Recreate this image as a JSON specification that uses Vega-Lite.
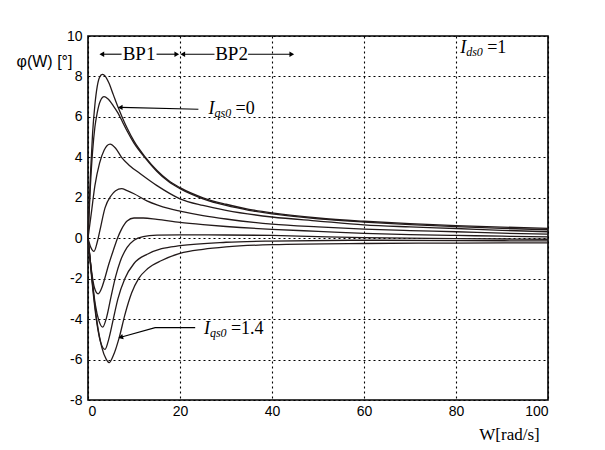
{
  "$schema": "https://vega.github.io/schema/vega-lite/v6.json",
  "width": 460,
  "height": 364,
  "autosize": {"type": "none"},
  "padding": {"left": 88, "top": 36, "right": 57, "bottom": 50},
  "background": "white",
  "config": {
    "view": {"stroke": "black", "strokeWidth": 1.6},
    "axis": {"labelFont": "Liberation Sans", "labelFontSize": 14, "labelColor": "black", "domain": false, "ticks": false, "grid": true, "gridColor": "black", "gridOpacity": 1, "gridDash": [2, 3], "gridWidth": 1.1, "titleColor": "black", "titleFontWeight": "normal"}
  },
  "datasets": {
    "curves": [
      {"s": 1, "w": 0, "phi": 0}, {"s": 1, "w": 0.5, "phi": 3.0}, {"s": 1, "w": 1, "phi": 5.2}, {"s": 1, "w": 1.5, "phi": 6.6}, {"s": 1, "w": 2, "phi": 7.5}, {"s": 1, "w": 2.5, "phi": 7.95}, {"s": 1, "w": 3.1, "phi": 8.1}, {"s": 1, "w": 3.6, "phi": 8.05}, {"s": 1, "w": 4.5, "phi": 7.7}, {"s": 1, "w": 5.5, "phi": 7.1}, {"s": 1, "w": 6.5, "phi": 6.5}, {"s": 1, "w": 7.5, "phi": 5.95}, {"s": 1, "w": 8.5, "phi": 5.45}, {"s": 1, "w": 10, "phi": 4.8}, {"s": 1, "w": 12.5, "phi": 4.0}, {"s": 1, "w": 15, "phi": 3.35}, {"s": 1, "w": 17.5, "phi": 2.85}, {"s": 1, "w": 20, "phi": 2.5}, {"s": 1, "w": 25, "phi": 2.0}, {"s": 1, "w": 30, "phi": 1.68}, {"s": 1, "w": 35, "phi": 1.43}, {"s": 1, "w": 40, "phi": 1.25}, {"s": 1, "w": 50, "phi": 1.0}, {"s": 1, "w": 60, "phi": 0.84}, {"s": 1, "w": 70, "phi": 0.72}, {"s": 1, "w": 80, "phi": 0.62}, {"s": 1, "w": 90, "phi": 0.55}, {"s": 1, "w": 100, "phi": 0.49},
      {"s": 2, "w": 0, "phi": 0}, {"s": 2, "w": 0.5, "phi": 2.5}, {"s": 2, "w": 1, "phi": 4.3}, {"s": 2, "w": 1.5, "phi": 5.5}, {"s": 2, "w": 2, "phi": 6.2}, {"s": 2, "w": 2.7, "phi": 6.8}, {"s": 2, "w": 3.5, "phi": 7.0}, {"s": 2, "w": 4.3, "phi": 6.9}, {"s": 2, "w": 5.5, "phi": 6.55}, {"s": 2, "w": 6.5, "phi": 6.2}, {"s": 2, "w": 7.5, "phi": 5.75}, {"s": 2, "w": 8.5, "phi": 5.3}, {"s": 2, "w": 10, "phi": 4.7}, {"s": 2, "w": 12.5, "phi": 3.95}, {"s": 2, "w": 15, "phi": 3.3}, {"s": 2, "w": 17.5, "phi": 2.8}, {"s": 2, "w": 20, "phi": 2.45}, {"s": 2, "w": 25, "phi": 1.95}, {"s": 2, "w": 30, "phi": 1.62}, {"s": 2, "w": 35, "phi": 1.38}, {"s": 2, "w": 40, "phi": 1.2}, {"s": 2, "w": 50, "phi": 0.96}, {"s": 2, "w": 60, "phi": 0.8}, {"s": 2, "w": 70, "phi": 0.67}, {"s": 2, "w": 80, "phi": 0.57}, {"s": 2, "w": 90, "phi": 0.49}, {"s": 2, "w": 100, "phi": 0.42},
      {"s": 3, "w": 0, "phi": 0}, {"s": 3, "w": 0.7, "phi": 1.2}, {"s": 3, "w": 1.5, "phi": 2.6}, {"s": 3, "w": 2.5, "phi": 3.7}, {"s": 3, "w": 3.5, "phi": 4.35}, {"s": 3, "w": 4.8, "phi": 4.65}, {"s": 3, "w": 6, "phi": 4.45}, {"s": 3, "w": 7.3, "phi": 4.0}, {"s": 3, "w": 9, "phi": 3.6}, {"s": 3, "w": 11.3, "phi": 3.2}, {"s": 3, "w": 15, "phi": 2.6}, {"s": 3, "w": 20, "phi": 1.95}, {"s": 3, "w": 25, "phi": 1.62}, {"s": 3, "w": 30, "phi": 1.38}, {"s": 3, "w": 40, "phi": 1.05}, {"s": 3, "w": 50, "phi": 0.85}, {"s": 3, "w": 60, "phi": 0.66}, {"s": 3, "w": 70, "phi": 0.56}, {"s": 3, "w": 80, "phi": 0.48}, {"s": 3, "w": 90, "phi": 0.39}, {"s": 3, "w": 100, "phi": 0.32},
      {"s": 4, "w": 0, "phi": 0}, {"s": 4, "w": 0.6, "phi": -0.45}, {"s": 4, "w": 1.3, "phi": -0.65}, {"s": 4, "w": 2, "phi": -0.2}, {"s": 4, "w": 2.6, "phi": 0.4}, {"s": 4, "w": 3.7, "phi": 1.5}, {"s": 4, "w": 5, "phi": 2.1}, {"s": 4, "w": 6, "phi": 2.35}, {"s": 4, "w": 7.3, "phi": 2.45}, {"s": 4, "w": 8.5, "phi": 2.35}, {"s": 4, "w": 10, "phi": 2.2}, {"s": 4, "w": 12.8, "phi": 1.85}, {"s": 4, "w": 15, "phi": 1.65}, {"s": 4, "w": 17.5, "phi": 1.47}, {"s": 4, "w": 20, "phi": 1.34}, {"s": 4, "w": 25, "phi": 1.12}, {"s": 4, "w": 30, "phi": 0.95}, {"s": 4, "w": 40, "phi": 0.7}, {"s": 4, "w": 50, "phi": 0.56}, {"s": 4, "w": 60, "phi": 0.45}, {"s": 4, "w": 70, "phi": 0.38}, {"s": 4, "w": 80, "phi": 0.32}, {"s": 4, "w": 90, "phi": 0.25}, {"s": 4, "w": 100, "phi": 0.2},
      {"s": 5, "w": 0, "phi": 0}, {"s": 5, "w": 0.7, "phi": -1.5}, {"s": 5, "w": 1.4, "phi": -2.45}, {"s": 5, "w": 2.2, "phi": -2.75}, {"s": 5, "w": 3, "phi": -2.45}, {"s": 5, "w": 3.5, "phi": -2.1}, {"s": 5, "w": 4.5, "phi": -1.3}, {"s": 5, "w": 5.5, "phi": -0.6}, {"s": 5, "w": 6.5, "phi": 0.05}, {"s": 5, "w": 7.3, "phi": 0.45}, {"s": 5, "w": 8.5, "phi": 0.85}, {"s": 5, "w": 10, "phi": 1.0}, {"s": 5, "w": 12, "phi": 1.0}, {"s": 5, "w": 15, "phi": 0.93}, {"s": 5, "w": 20, "phi": 0.78}, {"s": 5, "w": 25, "phi": 0.67}, {"s": 5, "w": 30, "phi": 0.58}, {"s": 5, "w": 40, "phi": 0.44}, {"s": 5, "w": 50, "phi": 0.34}, {"s": 5, "w": 60, "phi": 0.24}, {"s": 5, "w": 70, "phi": 0.18}, {"s": 5, "w": 80, "phi": 0.14}, {"s": 5, "w": 90, "phi": 0.1}, {"s": 5, "w": 100, "phi": 0.07},
      {"s": 6, "w": 0, "phi": 0}, {"s": 6, "w": 0.8, "phi": -1.8}, {"s": 6, "w": 1.6, "phi": -3.3}, {"s": 6, "w": 2.4, "phi": -4.1}, {"s": 6, "w": 3.2, "phi": -4.4}, {"s": 6, "w": 4, "phi": -3.95}, {"s": 6, "w": 5, "phi": -2.9}, {"s": 6, "w": 6, "phi": -1.9}, {"s": 6, "w": 7, "phi": -1.15}, {"s": 6, "w": 8.5, "phi": -0.45}, {"s": 6, "w": 10, "phi": -0.1}, {"s": 6, "w": 12, "phi": 0.08}, {"s": 6, "w": 15, "phi": 0.15}, {"s": 6, "w": 20, "phi": 0.17}, {"s": 6, "w": 30, "phi": 0.16}, {"s": 6, "w": 40, "phi": 0.14}, {"s": 6, "w": 50, "phi": 0.08}, {"s": 6, "w": 60, "phi": 0.03}, {"s": 6, "w": 80, "phi": -0.02}, {"s": 6, "w": 100, "phi": -0.05},
      {"s": 7, "w": 0, "phi": 0}, {"s": 7, "w": 0.9, "phi": -2.2}, {"s": 7, "w": 1.8, "phi": -4.0}, {"s": 7, "w": 2.7, "phi": -5.1}, {"s": 7, "w": 3.7, "phi": -5.5}, {"s": 7, "w": 4.5, "phi": -5.0}, {"s": 7, "w": 5.5, "phi": -4.0}, {"s": 7, "w": 6.5, "phi": -3.0}, {"s": 7, "w": 8, "phi": -2.0}, {"s": 7, "w": 10, "phi": -1.25}, {"s": 7, "w": 13, "phi": -0.78}, {"s": 7, "w": 16, "phi": -0.52}, {"s": 7, "w": 20, "phi": -0.37}, {"s": 7, "w": 30, "phi": -0.2}, {"s": 7, "w": 40, "phi": -0.14}, {"s": 7, "w": 60, "phi": -0.1}, {"s": 7, "w": 80, "phi": -0.12}, {"s": 7, "w": 100, "phi": -0.13},
      {"s": 8, "w": 0, "phi": 0}, {"s": 8, "w": 1, "phi": -2.3}, {"s": 8, "w": 2, "phi": -4.2}, {"s": 8, "w": 3, "phi": -5.4}, {"s": 8, "w": 4, "phi": -6.0}, {"s": 8, "w": 4.6, "phi": -6.15}, {"s": 8, "w": 5.5, "phi": -5.8}, {"s": 8, "w": 6.8, "phi": -4.9}, {"s": 8, "w": 8, "phi": -3.8}, {"s": 8, "w": 9.5, "phi": -2.7}, {"s": 8, "w": 11, "phi": -2.0}, {"s": 8, "w": 13, "phi": -1.5}, {"s": 8, "w": 16, "phi": -1.1}, {"s": 8, "w": 20, "phi": -0.75}, {"s": 8, "w": 25, "phi": -0.55}, {"s": 8, "w": 30, "phi": -0.43}, {"s": 8, "w": 40, "phi": -0.32}, {"s": 8, "w": 60, "phi": -0.26}, {"s": 8, "w": 80, "phi": -0.24}, {"s": 8, "w": 100, "phi": -0.23}
    ],
    "segments": [
      {"g": "bp1a", "w": 3.2, "phi": 9.1}, {"g": "bp1a", "w": 7.3, "phi": 9.1},
      {"g": "bp1b", "w": 14.9, "phi": 9.1}, {"g": "bp1b", "w": 19.2, "phi": 9.1},
      {"g": "bp2a", "w": 20.6, "phi": 9.1}, {"g": "bp2a", "w": 27.5, "phi": 9.1},
      {"g": "bp2b", "w": 34.8, "phi": 9.1}, {"g": "bp2b", "w": 44.2, "phi": 9.1},
      {"g": "a0", "w": 24.0, "phi": 6.38}, {"g": "a0", "w": 7.2, "phi": 6.47},
      {"g": "a14", "w": 23.3, "phi": -4.42}, {"g": "a14", "w": 14.6, "phi": -4.42}, {"g": "a14", "w": 7.3, "phi": -4.88}
    ],
    "headsLeft": [
      {"w": 3.0, "phi": 9.1}, {"w": 20.6, "phi": 9.1}, {"w": 7.0, "phi": 6.47}
    ],
    "headsRight": [
      {"w": 19.3, "phi": 9.1}, {"w": 44.3, "phi": 9.1}
    ],
    "headsTilt": [
      {"w": 7.1, "phi": -4.9}
    ],
    "bp": [
      {"w": 11.1, "phi": 9.1, "t": "BP1"}, {"w": 31.2, "phi": 9.1, "t": "BP2"}
    ],
    "notes": [
      {"w": 26.2, "phi": 6.39, "i": "I", "sub": "qs0", "rest": "=0"},
      {"w": 25.2, "phi": -4.47, "i": "I", "sub": "qs0", "rest": "=1.4"},
      {"w": 80.9, "phi": 9.39, "i": "I", "sub": "ds0", "rest": "=1"}
    ]
  },
  "layer": [
    {
      "data": {"name": "curves"},
      "mark": {"type": "line", "interpolate": "monotone", "color": "#231a1a", "strokeWidth": 1.3},
      "encoding": {
        "x": {"field": "w", "type": "quantitative", "scale": {"domain": [0, 100], "nice": false},
          "axis": {"values": [0, 20, 40, 60, 80, 100], "labelExpr": "datum.value + ''", "labelPadding": 4, "title": "W[rad/s]", "titleFont": "Liberation Serif", "titleFontSize": 17, "titleX": 421, "titleY": 34, "titleAlign": "center", "titleBaseline": "middle"}},
        "y": {"field": "phi", "type": "quantitative", "scale": {"domain": [-8, 10], "nice": false},
          "axis": {"values": [-8, -6, -4, -2, 0, 2, 4, 6, 8, 10], "labelExpr": "datum.value + ''", "labelPadding": 6, "title": "φ(W) [°]", "titleFont": "Liberation Sans", "titleFontSize": 16, "titleAngle": 0, "titleX": -44, "titleY": 25, "titleAlign": "center", "titleBaseline": "middle"}},
        "detail": {"field": "s", "type": "nominal"}
      }
    },
    {
      "data": {"name": "segments"},
      "mark": {"type": "line", "color": "black", "strokeWidth": 1.1},
      "encoding": {
        "x": {"field": "w", "type": "quantitative"},
        "y": {"field": "phi", "type": "quantitative"},
        "detail": {"field": "g", "type": "nominal"},
        "order": {"value": 0}
      }
    },
    {
      "data": {"name": "headsLeft"},
      "mark": {"type": "point", "shape": "triangle-left", "filled": true, "color": "black", "size": 30, "opacity": 1},
      "encoding": {"x": {"field": "w", "type": "quantitative"}, "y": {"field": "phi", "type": "quantitative"}}
    },
    {
      "data": {"name": "headsRight"},
      "mark": {"type": "point", "shape": "triangle-right", "filled": true, "color": "black", "size": 30, "opacity": 1},
      "encoding": {"x": {"field": "w", "type": "quantitative"}, "y": {"field": "phi", "type": "quantitative"}}
    },
    {
      "data": {"name": "headsTilt"},
      "mark": {"type": "point", "shape": "triangle-left", "filled": true, "color": "black", "size": 30, "opacity": 1, "angle": 344},
      "encoding": {"x": {"field": "w", "type": "quantitative"}, "y": {"field": "phi", "type": "quantitative"}}
    },
    {
      "data": {"name": "bp"},
      "mark": {"type": "text", "font": "Liberation Serif", "fontSize": 19, "color": "black", "align": "center", "baseline": "middle"},
      "encoding": {"x": {"field": "w", "type": "quantitative"}, "y": {"field": "phi", "type": "quantitative"}, "text": {"field": "t"}}
    },
    {
      "data": {"name": "notes"},
      "mark": {"type": "text", "font": "Liberation Serif", "fontStyle": "italic", "fontSize": 18, "color": "black", "align": "left", "baseline": "middle"},
      "encoding": {"x": {"field": "w", "type": "quantitative"}, "y": {"field": "phi", "type": "quantitative"}, "text": {"field": "i"}}
    },
    {
      "data": {"name": "notes"},
      "mark": {"type": "text", "font": "Liberation Serif", "fontStyle": "italic", "fontSize": 12, "color": "black", "align": "left", "baseline": "middle", "dx": 6, "dy": 4},
      "encoding": {"x": {"field": "w", "type": "quantitative"}, "y": {"field": "phi", "type": "quantitative"}, "text": {"field": "sub"}}
    },
    {
      "data": {"name": "notes"},
      "mark": {"type": "text", "font": "Liberation Serif", "fontSize": 18, "color": "black", "align": "left", "baseline": "middle", "dx": 27},
      "encoding": {"x": {"field": "w", "type": "quantitative"}, "y": {"field": "phi", "type": "quantitative"}, "text": {"field": "rest"}}
    }
  ]
}
